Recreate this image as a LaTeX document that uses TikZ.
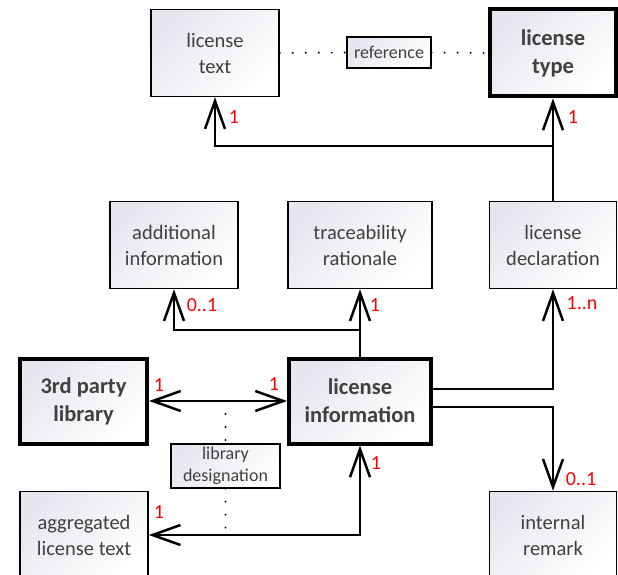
\documentclass[tikz,border=0pt]{standalone}
\usepackage{fontspec}
\setmainfont{Carlito}
\usetikzlibrary{arrows.meta, positioning}
\definecolor{txtgray}{RGB}{64,64,64}
\definecolor{boxshade}{RGB}{230,231,238}
\definecolor{multred}{RGB}{255,0,0}

\tikzset{
  box/.style={draw, line width=1.5pt, top color=boxshade, bottom color=white, shading angle=45,
    text=txtgray, align=center, inner sep=0pt, font=\fontsize{20.5}{26}\selectfont},
  boldbox/.style={box, line width=4pt, font=\fontsize{22.5}{28}\selectfont\bfseries},
  tagbox/.style={box, line width=1.2pt, font=\fontsize{18}{22}\selectfont},
  conn/.style={line width=2.5pt},
  assoc/.style={conn, -{Straight Barb[length=28pt,width=20pt]}},
  biassoc/.style={conn, {Straight Barb[length=28pt,width=20pt]}-{Straight Barb[length=28pt,width=20pt]}},
  mult/.style={text=multred, inner sep=0pt, font=\fontsize{20}{22}\selectfont},
  dotline/.style={line width=2.2pt, line cap=round, dash pattern=on 0pt off 13pt},
}

\begin{document}
\begin{tikzpicture}[x=1pt, y=-1pt]
\useasboundingbox (0,0) rectangle (618,575);

% top row
\node[box, minimum width=128pt, minimum height=87pt] (lictext) at (215,53) {license\\text};
\node[boldbox, minimum width=126pt, minimum height=87pt] (lictype) at (553,53) {license\\type};
\node[tagbox, minimum width=84pt, minimum height=31pt] (ref) at (389,52.5) {reference};

% second row
\node[box, minimum width=128pt, minimum height=87pt] (addinfo) at (174,245) {additional\\information};
\node[box, minimum width=144pt, minimum height=87pt] (trace) at (360,245) {traceability\\rationale};
\node[box, minimum width=127pt, minimum height=87pt] (decl) at (553,245) {license\\declaration};

% third row
\node[boldbox, minimum width=127pt, minimum height=85pt] (thirdparty) at (83.5,401) {3rd party\\library};
\node[boldbox, minimum width=142pt, minimum height=85pt] (licinfo) at (360,401) {license\\information};
\node[tagbox, minimum width=109pt, minimum height=44pt] (libdes) at (225.5,466) {library\\designation};

% bottom row (cut by the page edge)
\node[box, minimum width=128pt, minimum height=87pt] (aggr) at (84,535) {aggregated\\license text};
\node[box, minimum width=127pt, minimum height=87pt] (remark) at (553,535) {internal\\remark};

% license declaration -> text / type
\coordinate (jtop) at (553,146);
\draw[conn] (decl.north) -- (jtop);
\draw[assoc] (jtop) -| (lictext.south);
\draw[assoc] (jtop) -- (lictype.south);

% license information -> additional / traceability
\coordinate (jmid) at (360,330);
\draw[conn] (licinfo.north) -- (jmid);
\draw[assoc] (jmid) -| (addinfo.south);
\draw[assoc] (jmid) -- (trace.south);

% license information -> declaration / remark
\draw[assoc] ([yshift=12pt]licinfo.east) -| (decl.south);
\draw[assoc] ([yshift=-6pt]licinfo.east) -| (remark.north);

% library <-> license information <-> aggregated text
\draw[biassoc] (thirdparty.east) -- (licinfo.west);
\draw[biassoc] (licinfo.south) |- (aggr.east);

% qualifiers
\draw[dotline] (lictext.east) -- (ref.west);
\draw[dotline] (ref.east) -- (lictype.west);
\draw[dotline] (libdes.north |- thirdparty.east) -- (libdes.north);
\draw[dotline] (libdes.south) -- (libdes.south |- aggr.east);

% multiplicities
\node[mult] (m1) at (234,117) {1};
\node[mult] (m2) at (573,117) {1};
\node[mult] (m3) at (202,305) {0..1};
\node[mult] (m4) at (375,305) {1};
\node[mult] (m5) at (582,303) {1..n};
\node[mult] (m6) at (159,385) {1};
\node[mult] (m7) at (274,384) {1};
\node[mult] (m8) at (376,463) {1};
\node[mult] (m9) at (159,512) {1};
\node[mult] (m10) at (581,479) {0..1};

\end{tikzpicture}
\end{document}
